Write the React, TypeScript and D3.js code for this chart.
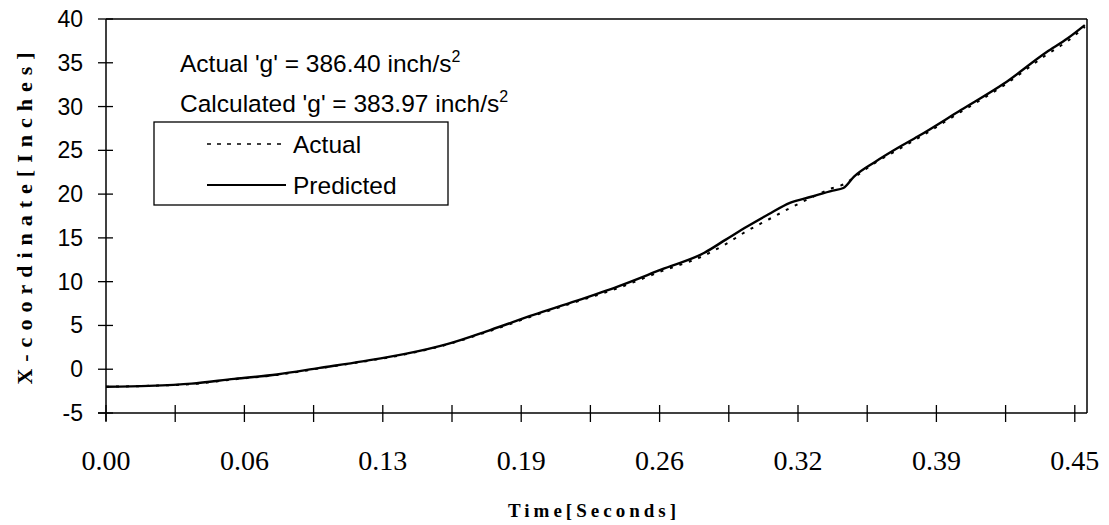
import React, { useEffect, useRef } from "react";
import * as d3 from "d3";

// Time (seconds) of each sample
const tValues = [0, 0.02, 0.04, 0.06, 0.08, 0.10, 0.12, 0.14, 0.16, 0.18, 0.20, 0.22, 0.24, 0.26, 0.28, 0.29, 0.30, 0.31, 0.32, 0.33, 0.34, 0.345, 0.35, 0.36, 0.37, 0.38, 0.40, 0.42, 0.44, 0.45, 0.458];
// X-coordinate (inches)
const predicted = [-2.0, -1.9, -1.65, -1.1, -0.6, 0.15, 0.9, 1.75, 2.9, 4.5, 6.2, 7.8, 9.5, 11.4, 13.3, 14.8, 16.3, 17.7, 19.0, 19.7, 20.4, 20.7, 22.0, 23.7, 25.2, 26.6, 29.6, 32.6, 36.2, 37.8, 39.3];
const actual = [-2.0, -1.9, -1.7, -1.15, -0.65, 0.1, 0.85, 1.7, 2.85, 4.4, 6.1, 7.7, 9.3, 11.2, 13.0, 14.3, 15.8, 17.1, 18.4, 19.6, 20.7, 21.1, 21.9, 23.6, 25.0, 26.4, 29.4, 32.4, 35.9, 37.5, 39.1];

const xTickStep = 0.4533 / 14;
const xTickCount = 15;
const yTicks = [-5, 0, 5, 10, 15, 20, 25, 30, 35, 40];

const annotations = [
  { label: "Actual 'g' = 386.40 inch/s", sup: "2" },
  { label: "Calculated 'g' = 383.97 inch/s", sup: "2" },
];
const legendItems = [
  { name: "Actual", dash: "4,6", width: 1.6 },
  { name: "Predicted", dash: "", width: 2 },
];

const W = 1109;
const H = 525;
const M = { left: 106, right: 1087, top: 18, bottom: 413 };

export default function App() {
  const ref = useRef<SVGSVGElement>(null);

  useEffect(() => {
    const svg = d3.select(ref.current);
    svg.selectAll("*").remove();

    const tMax = ((M.right - M.left) / (14 * 69.2)) * 0.4533;
    const x = d3.scaleLinear().domain([0, tMax]).range([M.left, M.right]);
    const y = d3.scaleLinear().domain([-5, 40]).range([M.bottom, M.top + 1]);

    const g = svg.append("g");

    // frame: top and right borders
    g.append("line").attr("x1", M.left).attr("x2", M.right).attr("y1", y(40)).attr("y2", y(40))
      .attr("stroke", "#000").attr("stroke-width", 1.5);
    g.append("line").attr("x1", M.right).attr("x2", M.right).attr("y1", y(40)).attr("y2", y(-5))
      .attr("stroke", "#000").attr("stroke-width", 1.5);
    // axes
    g.append("line").attr("x1", M.left).attr("x2", M.left).attr("y1", y(40)).attr("y2", y(-5) + 8)
      .attr("stroke", "#000").attr("stroke-width", 1.5);
    g.append("line").attr("x1", M.left - 8).attr("x2", M.right).attr("y1", y(-5)).attr("y2", y(-5))
      .attr("stroke", "#000").attr("stroke-width", 1.5);

    // y ticks
    yTicks.forEach((v) => {
      g.append("line").attr("x1", M.left - 8).attr("x2", M.left + 7).attr("y1", y(v)).attr("y2", y(v))
        .attr("stroke", "#000").attr("stroke-width", 1.3);
      g.append("text").attr("x", 83).attr("y", y(v)).attr("dy", "0.35em")
        .attr("text-anchor", "end").attr("font-family", "Liberation Sans, Arial, sans-serif")
        .attr("font-size", 23).text(String(v));
    });

    // x ticks
    d3.range(xTickCount).forEach((i) => {
      const tv = i * xTickStep;
      g.append("line").attr("x1", x(tv)).attr("x2", x(tv)).attr("y1", y(-5) - 8).attr("y2", y(-5) + 9)
        .attr("stroke", "#000").attr("stroke-width", 1.3);
      if (i % 2 === 0) {
        g.append("text").attr("x", x(tv)).attr("y", 470).attr("text-anchor", "middle")
          .attr("font-family", "Liberation Serif, Times New Roman, serif").attr("font-size", 28)
          .text(d3.format(".2f")(tv));
      }
    });

    // axis titles
    g.append("text").attr("x", 594).attr("y", 517).attr("text-anchor", "middle")
      .attr("font-family", "Liberation Serif, Times New Roman, serif").attr("font-weight", "bold")
      .attr("font-size", 19).attr("letter-spacing", 4).text("Time[Seconds]");
    g.append("text").attr("transform", `translate(32,${(50 + 380) / 2}) rotate(-90)`)
      .attr("text-anchor", "middle")
      .attr("font-family", "Liberation Serif, Times New Roman, serif").attr("font-weight", "bold")
      .attr("font-size", 22).attr("letter-spacing", 7).text("X-coordinate[Inches]");

    // series
    const line = d3.line<number>().x((_, i) => x(tValues[i])).y((d) => y(d)).curve(d3.curveMonotoneX);
    g.append("path").attr("d", line(actual) as string).attr("fill", "none").attr("stroke", "#000")
      .attr("stroke-width", 2).attr("stroke-dasharray", "3,7");
    g.append("path").attr("d", line(predicted) as string).attr("fill", "none").attr("stroke", "#000")
      .attr("stroke-width", 2.4);

    // annotations
    annotations.forEach((a, i) => {
      const t = g.append("text").attr("x", 180).attr("y", 72 + i * 40)
        .attr("font-family", "Liberation Sans, Arial, sans-serif").attr("font-size", 24.5);
      t.append("tspan").text(a.label);
      t.append("tspan").attr("dy", -10).attr("font-size", 16).text(a.sup);
    });

    // legend
    g.append("rect").attr("x", 154).attr("y", 122).attr("width", 294).attr("height", 83)
      .attr("fill", "#fff").attr("stroke", "#000").attr("stroke-width", 1.3);
    legendItems.forEach((it, i) => {
      const ly = 144 + i * 41;
      const l = g.append("line").attr("x1", 207).attr("x2", 286).attr("y1", ly).attr("y2", ly)
        .attr("stroke", "#000").attr("stroke-width", it.width);
      if (it.dash) l.attr("stroke-dasharray", it.dash);
      g.append("text").attr("x", 293).attr("y", ly).attr("dy", "0.36em")
        .attr("font-family", "Liberation Sans, Arial, sans-serif").attr("font-size", 24.5).text(it.name);
    });
  }, []);

  return (
    <svg ref={ref} width={W} height={H} style={{ position: "absolute", left: 0, top: 0, background: "#fff" }} />
  );
}
